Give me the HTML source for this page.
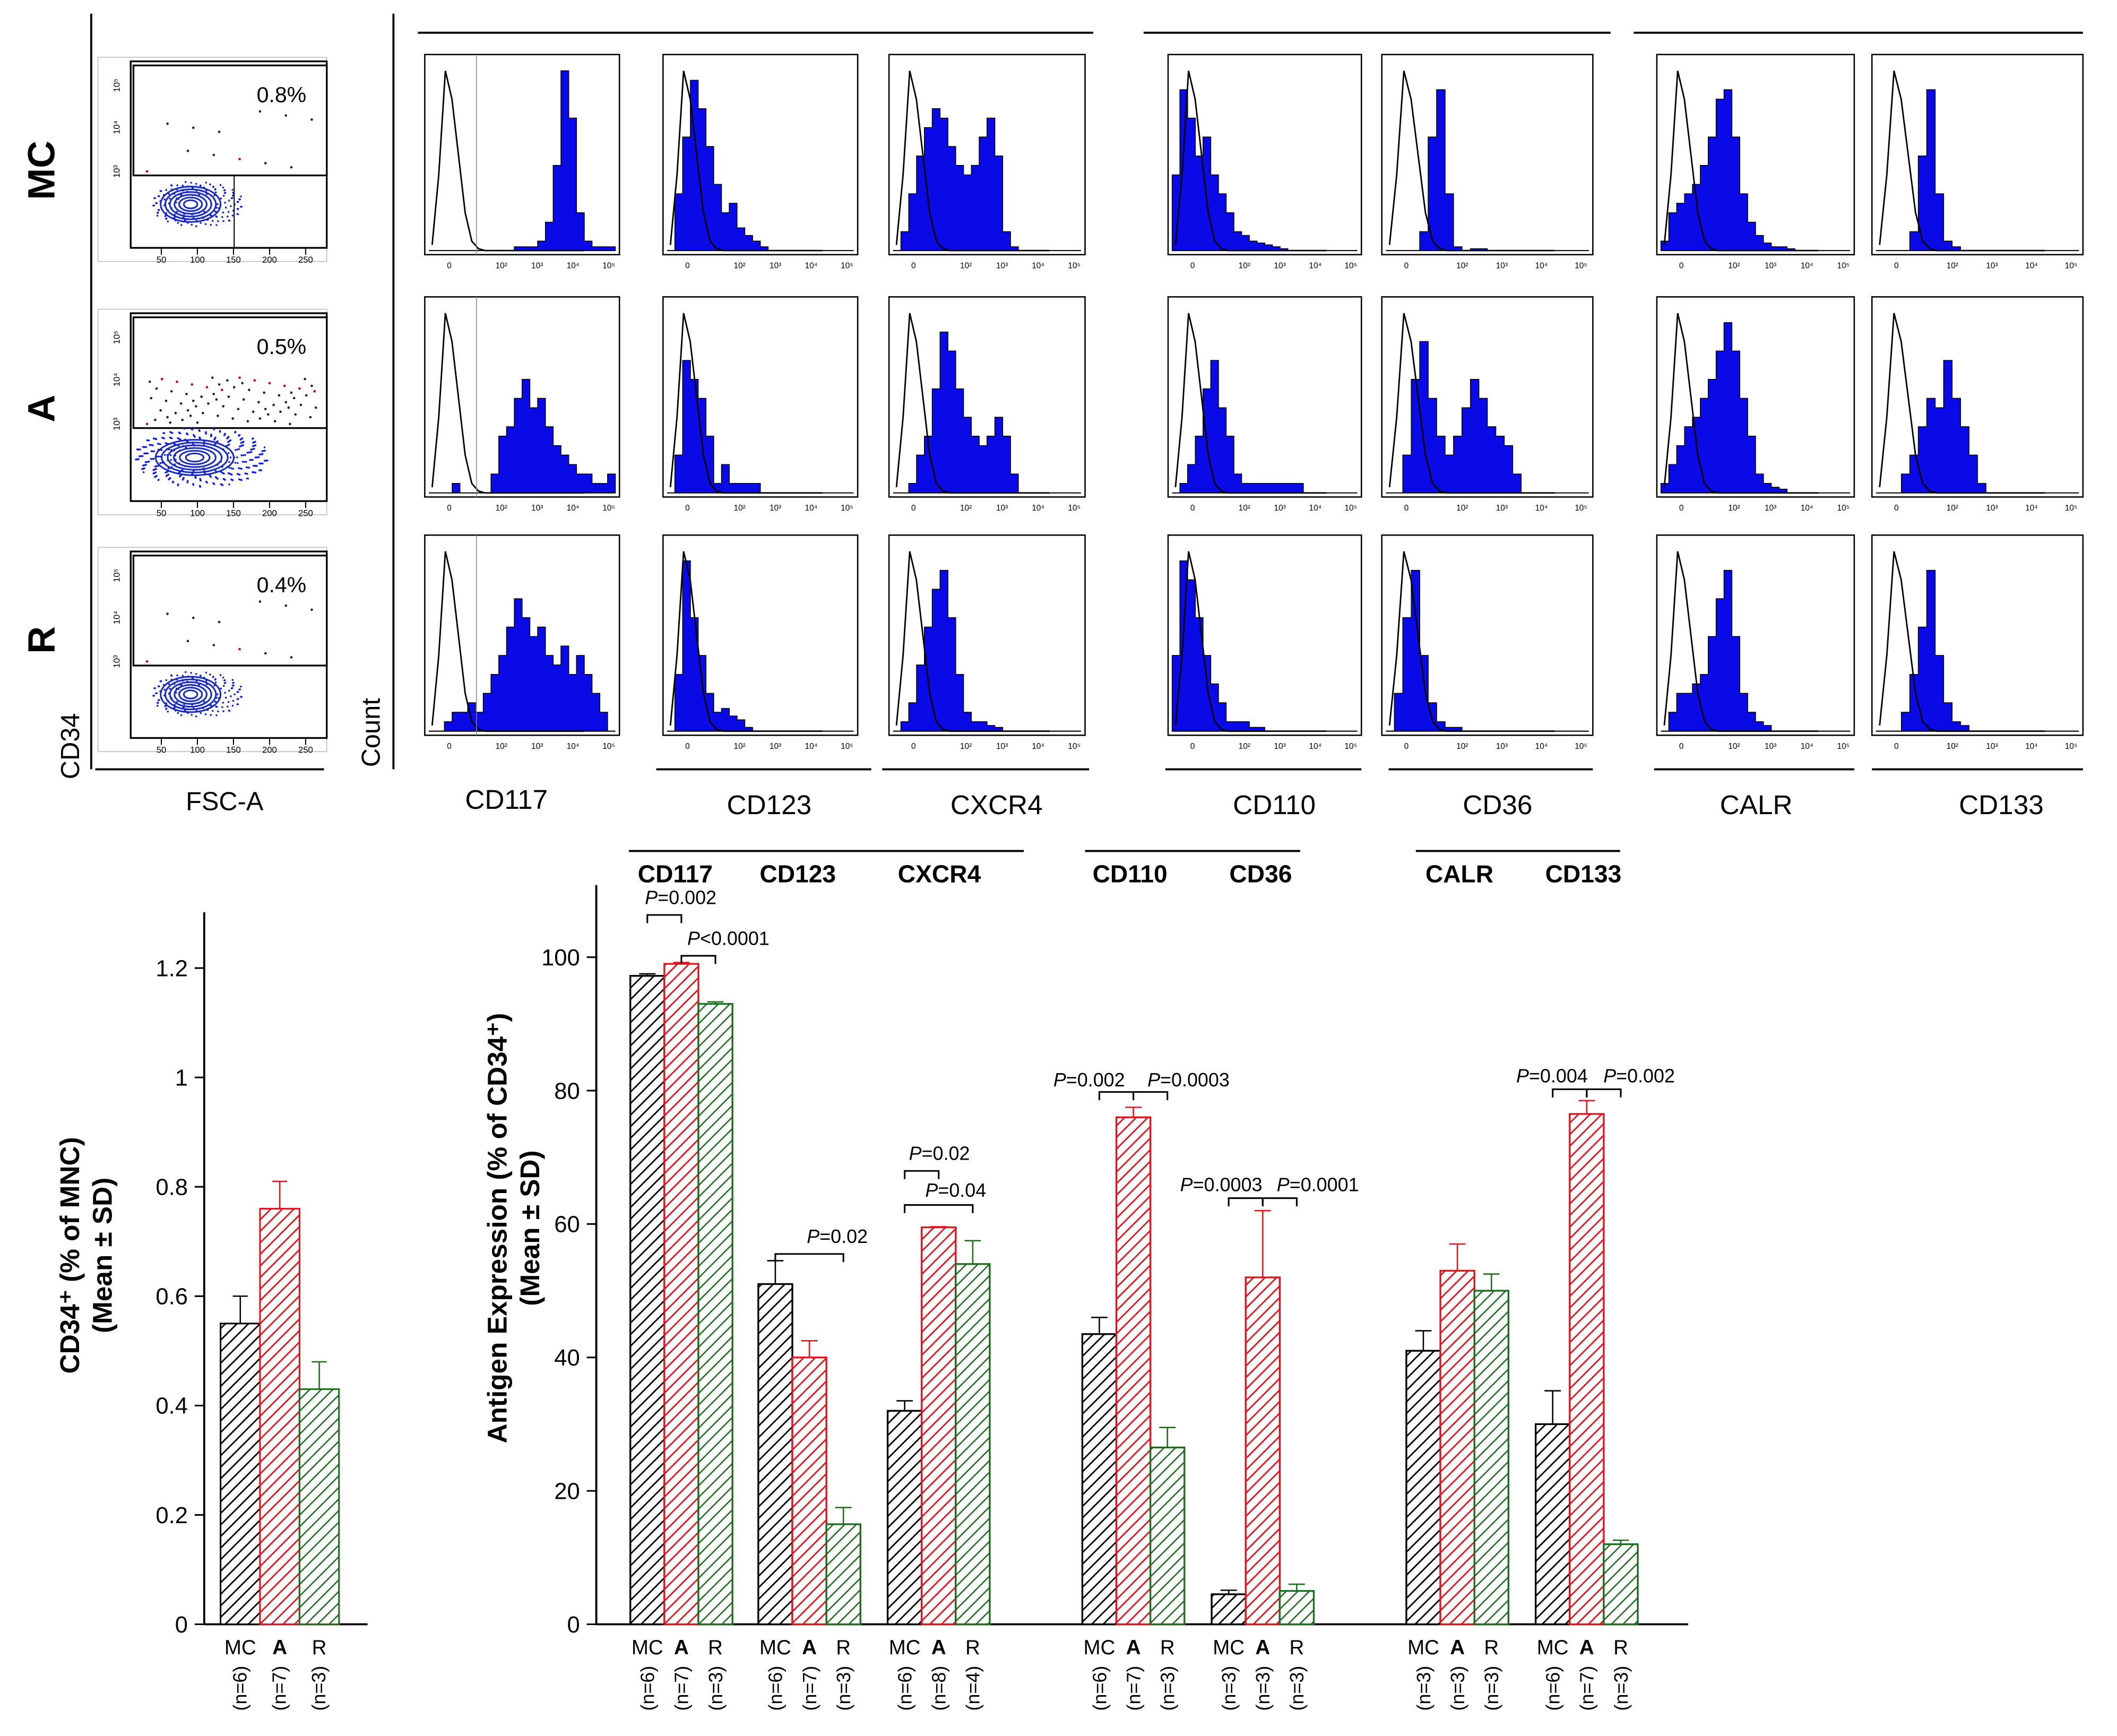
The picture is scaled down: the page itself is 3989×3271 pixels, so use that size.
<!DOCTYPE html>
<html><head><meta charset="utf-8"><style>
html,body{margin:0;padding:0;background:#fff}
svg{display:block}
text{font-family:"Liberation Sans",sans-serif}
</style></head><body>
<svg id="fig" width="3989" height="3271" viewBox="0 0 1555 1275" xmlns="http://www.w3.org/2000/svg">
<defs>
<pattern id="hk" patternUnits="userSpaceOnUse" width="6" height="6" patternTransform="rotate(45)"><rect width="6" height="6" fill="#fff"/><line x1="0" y1="0" x2="0" y2="6" stroke="#000" stroke-width="2.2"/></pattern>
<pattern id="hr" patternUnits="userSpaceOnUse" width="6" height="6" patternTransform="rotate(45)"><rect width="6" height="6" fill="#fff"/><line x1="0" y1="0" x2="0" y2="6" stroke="#e0141e" stroke-width="2.2"/></pattern>
<pattern id="hg" patternUnits="userSpaceOnUse" width="6" height="6" patternTransform="rotate(45)"><rect width="6" height="6" fill="#fff"/><line x1="0" y1="0" x2="0" y2="6" stroke="#1f6b1f" stroke-width="2"/></pattern>
</defs>
<g id="topPanels"></g>
<g id="left"></g>
<g id="main"></g>
</svg>
<script>
// ---------- data ----------
const antigens = ["CD117","CD123","CXCR4","CD110","CD36","CALR","CD133"];
const groups = ["MC","A","R"];
const cd34Values = [0.55,0.76,0.43];
const cd34Errors = [0.05,0.05,0.05];
const cd34N = ["(n=6)","(n=7)","(n=3)"];
const mcValues = [97.2,51,32,43.5,4.5,41,30];
const aValues = [99,40,59.5,76,52,53,76.5];
const rValues = [93,15,54,26.5,5,50,12];
const mcErrors = [0.3,3.5,1.5,2.5,0.6,3,5];
const aErrors = [0.2,2.5,0.1,1.5,10,4,2];
const rErrors = [0.3,2.5,3.5,3,1,2.5,0.6];
const nLabels = [["(n=6)","(n=7)","(n=3)"],["(n=6)","(n=7)","(n=3)"],["(n=6)","(n=8)","(n=4)"],["(n=6)","(n=7)","(n=3)"],["(n=3)","(n=3)","(n=3)"],["(n=3)","(n=3)","(n=3)"],["(n=6)","(n=7)","(n=3)"]];
const yTicksMain = [0,20,40,60,80,100];
const yTicksCd34 = [0,0.2,0.4,0.6,0.8,1,1.2];
const isoCurve = [0.03,0.4,0.95,0.8,0.5,0.2,0.05,0.01,0,0,0,0,0,0,0,0,0,0,0,0,0,0,0,0];
const histMC = [
 [0,0,0,0,0,0,0,0,0,0,0,0.02,0.02,0.02,0.05,0.15,0.45,0.95,0.7,0.2,0.05,0.02,0.02,0.02],
 [0,0.3,0.6,0.9,0.75,0.55,0.35,0.2,0.25,0.12,0.08,0.05,0.02,0,0,0,0,0,0,0,0,0,0,0],
 [0,0.1,0.3,0.5,0.65,0.75,0.7,0.55,0.45,0.4,0.45,0.6,0.7,0.5,0.1,0.02,0,0,0,0,0,0,0,0],
 [0.4,0.85,0.7,0.5,0.6,0.4,0.3,0.2,0.1,0.08,0.05,0.04,0.03,0.02,0.01,0,0,0,0,0,0,0,0,0],
 [0,0,0,0,0.1,0.6,0.85,0.3,0.02,0,0.01,0.01,0,0,0,0,0,0,0,0,0,0,0,0],
 [0.05,0.2,0.25,0.3,0.35,0.45,0.6,0.8,0.85,0.6,0.3,0.15,0.08,0.04,0.02,0.02,0.01,0,0,0,0,0,0,0],
 [0,0,0,0,0.1,0.5,0.85,0.3,0.05,0.02,0,0,0,0,0,0,0,0,0,0,0,0,0,0]];
const histA = [
 [0,0,0,0.05,0,0,0,0,0.1,0.3,0.35,0.5,0.6,0.45,0.5,0.35,0.25,0.2,0.15,0.1,0.1,0.05,0.05,0.1],
 [0,0.2,0.7,0.6,0.5,0.3,0.05,0.15,0.05,0.05,0.05,0.05,0,0,0,0,0,0,0,0,0,0,0,0],
 [0,0,0.05,0.2,0.3,0.55,0.85,0.75,0.55,0.4,0.3,0.25,0.3,0.4,0.3,0.1,0,0,0,0,0,0,0,0],
 [0,0.05,0.15,0.3,0.55,0.7,0.45,0.3,0.1,0.05,0.05,0.05,0.05,0.05,0.05,0.05,0.05,0,0,0,0,0,0,0],
 [0,0,0.2,0.6,0.8,0.5,0.3,0.2,0.3,0.45,0.6,0.5,0.35,0.3,0.25,0.1,0,0,0,0,0,0,0,0],
 [0.05,0.15,0.25,0.35,0.4,0.5,0.6,0.75,0.9,0.75,0.5,0.3,0.1,0.05,0.03,0.02,0,0,0,0,0,0,0,0],
 [0,0,0,0.1,0.2,0.35,0.5,0.45,0.7,0.5,0.35,0.2,0.05,0,0,0,0,0,0,0,0,0,0,0]];
const histR = [
 [0,0,0.05,0.1,0.1,0.15,0.1,0.2,0.3,0.4,0.55,0.7,0.6,0.5,0.55,0.4,0.35,0.45,0.3,0.4,0.3,0.2,0.1,0],
 [0,0.3,0.9,0.6,0.4,0.2,0.1,0.12,0.08,0.06,0.02,0,0,0,0,0,0,0,0,0,0,0,0,0],
 [0,0.05,0.15,0.35,0.55,0.75,0.85,0.6,0.3,0.1,0.05,0.05,0.03,0.02,0,0,0,0,0,0,0,0,0,0],
 [0.4,0.9,0.8,0.6,0.4,0.25,0.15,0.05,0.05,0.05,0.02,0.02,0,0,0,0,0,0,0,0,0,0,0,0],
 [0,0.2,0.6,0.85,0.4,0.15,0.05,0.02,0.02,0,0,0,0,0,0,0,0,0,0,0,0,0,0,0],
 [0,0.1,0.2,0.2,0.25,0.3,0.5,0.7,0.85,0.5,0.2,0.1,0.05,0.03,0,0,0,0,0,0,0,0,0,0],
 [0,0,0,0.1,0.3,0.55,0.85,0.4,0.15,0.05,0.03,0,0,0,0,0,0,0,0,0,0,0,0,0]];
const gatePercents = ["0.8%","0.5%","0.4%"];
const rowNames = ["MC","A","R"];

// ---------- helpers ----------
const NS="http://www.w3.org/2000/svg";
function el(parent,tag,attrs,txt){const n=document.createElementNS(NS,tag);for(const k in attrs)n.setAttribute(k,attrs[k]);if(txt!==undefined)n.textContent=txt;parent.appendChild(n);return n;}

// ---------- top panels ----------
const topG=document.getElementById('topPanels');
const defs=document.querySelector('defs');
let e;
e=el(topG,'line',{x1:67,y1:10,x2:67,y2:565,stroke:'#000','stroke-width':1.5});


e=el(topG,'line',{x1:289,y1:10,x2:289,y2:565,stroke:'#000','stroke-width':1.5});


[[307,803,24],[840,1183,24],[1200,1530,24],[70,238,565],[482,640,565],[648,800,565],[856,1000,565],[1020,1170,565],[1215,1362,565],[1375,1530,565],[462,752,625],[797,955,625],[1040,1190,625]].forEach(l=>{
 e=el(topG,'line',{x1:l[0],y1:l[2],x2:l[1],y2:l[2],stroke:'#000','stroke-width':1.5});
 
 
});
const rowY=[[45,192],[230,378],[405,552]];
const rowLblY=[125,300,470];
rowNames.forEach((n,i)=>{
 e=el(topG,'text',{x:0,y:0,transform:`translate(40,${rowLblY[i]}) rotate(-90)`,'text-anchor':'middle','font-size':28,'font-weight':'bold'},n);
 
 
});
e=el(topG,'text',{transform:'translate(58,548) rotate(-90)','text-anchor':'middle','font-size':19},'CD34');


e=el(topG,'text',{x:165,y:595,'text-anchor':'middle','font-size':19},'FSC-A');


e=el(topG,'text',{transform:'translate(279,538) rotate(-90)','text-anchor':'middle','font-size':19},'Count');


// dot plots
rowY.forEach((r,i)=>{
 const g=el(topG,'g',{});
 
 
 const x0=96,x1=240,y0=r[0],y1=r[1];
 const cp=el(defs,'clipPath',{id:'dpc'+i});
 el(cp,'rect',{x:x0,y:y0,width:x1-x0,height:y1-y0-10});
 el(g,'rect',{x:72,y:y0-3,width:168,height:y1-y0+3,fill:'none',stroke:'#bbb','stroke-width':0.6});
 el(g,'rect',{x:x0,y:y0,width:x1-x0,height:y1-y0-10,fill:'none',stroke:'#000','stroke-width':1.3});
 const gy=y0+(y1-y0)*0.57;
 el(g,'rect',{x:x0+2,y:y0+3,width:x1-x0-2,height:gy-y0-3,fill:'none',stroke:'#000','stroke-width':1.3});
 const cg=el(g,'g',{'clip-path':`url(#dpc${i})`});
 const cx=i==1?148:145,cy=y1-42, sc=i==1?1.45:1;
 const nEv=i==1?400:160;
 for(let k=0;k<nEv;k++){const a=k*2.399, rr=0.3+0.7*Math.sqrt((k*0.7548776)%1);
  el(cg,'circle',{cx:cx+Math.cos(a)*rr*34*sc,cy:cy+Math.sin(a)*rr*(i==1?22:17),r:0.7,fill:'#1020e0'});}
 for(let k=0;k<6;k++) el(cg,'ellipse',{cx:cx-5,cy:cy,rx:(22-k*3.4)*sc*(i==1?0.9:1),ry:13-k*2,fill:'none',stroke:'#1a2bbf','stroke-width':1.2});
 if(i==0) el(g,'line',{x1:172,y1:gy,x2:172,y2:y1-10,stroke:'#000','stroke-width':0.8});
 const nd=i==1?70:12;
 for(let k=0;k<nd;k++){el(g,'circle',{cx:108+((k*53)%125),cy:gy-3-((k*29)%(i==1?35:55)),r:0.9,fill:k%6==0?'#c00':'#222'});}
 e=el(g,'text',{x:225,y:y0+30,'text-anchor':'end','font-size':16},gatePercents[i]);
 
 
 [50,100,150,200,250].forEach((t,j)=>{const tx=x0+t*0.53-4;
  el(g,'line',{x1:tx,y1:y1-10,x2:tx,y2:y1-5,stroke:'#000','stroke-width':0.8});
  el(g,'text',{x:tx,y:y1+1,'text-anchor':'middle','font-size':6.5},t);});
 [['10⁵',0.12],['10⁴',0.33],['10³',0.55]].forEach(t=>{el(g,'text',{transform:`translate(88,${y0+(y1-y0)*t[1]}) rotate(-90)`,'text-anchor':'middle','font-size':6.5},t[0]);});
});
// histograms
const colX=[[312,455],[487,630],[653,797],[858,1000],[1015,1170],[1217,1362],[1375,1530]];
const rowsData=[histMC,histA,histR];
const histRowY=[[40,187],[218,365],[393,540]];
rowsData.forEach((rd,ri)=>{
 rd.forEach((bins,ci)=>{
  const g=el(topG,'g',{});
  
  
  const [x0,x1]=colX[ci],[y0,y1]=histRowY[ri];
  el(g,'rect',{x:x0,y:y0,width:x1-x0,height:y1-y0,fill:'#fff',stroke:'#000','stroke-width':1});
  const hbw=(x1-x0-6)/bins.length, base=y1-3, H=(y1-y0-8);
  let d=`M${x0+3},${base}`;
  bins.forEach((v,k)=>{const yy=base-v*H;d+=` L${x0+3+k*hbw},${yy} L${x0+3+(k+1)*hbw},${yy}`;});
  d+=` L${x0+3+bins.length*hbw},${base} Z`;
  el(g,'path',{d:d,fill:'#0a0ae6',stroke:'#000','stroke-width':0.6});
  let p='';
  isoCurve.forEach((v,k)=>{p+=(k?' L':'M')+(x0+3+(k+0.5)*hbw*0.85)+','+(base-v*H);});
  el(g,'path',{d:p,fill:'none',stroke:'#000','stroke-width':1.1});
  el(g,'line',{x1:x0+3,y1:base,x2:x1-3,y2:base,stroke:'#000','stroke-width':0.8});
  if(ci==0) el(g,'line',{x1:x0+38,y1:y0,x2:x0+38,y2:y1,stroke:'#888','stroke-width':0.6});
  ['0','10²','10³','10⁴','10⁵'].forEach((t,j)=>{const tx=x0+18+j*(x1-x0-30)/4.3+(j>0?12:0);
   el(g,'text',{x:tx,y:y1+10,'text-anchor':'middle','font-size':6},t);});
 });
});
const lblX=[372,565,732,936,1100,1290,1470];
antigens.forEach((a,i)=>{e=el(topG,'text',{x:lblX[i],y:i==0?594:598,'text-anchor':'middle','font-size':20},a);
 
 });
const hdrX=[496,586,690,830,926,1072,1163];
antigens.forEach((a,i)=>{e=el(topG,'text',{x:hdrX[i],y:648,'text-anchor':'middle','font-size':18,'font-weight':'bold'},a);
 
 });

// ---------- CD34 chart ----------
const L=document.getElementById('left');
const ly=v=>1193-v*(1193-711)/1.2;
e=el(L,'line',{x1:150,y1:670,x2:150,y2:1193,stroke:'#000','stroke-width':1.5});


e=el(L,'line',{x1:150,y1:1193,x2:270,y2:1193,stroke:'#000','stroke-width':1.5});


yTicksCd34.forEach(t=>{el(L,'line',{x1:143,y1:ly(t),x2:150,y2:ly(t),stroke:'#000','stroke-width':1.2});
 e=el(L,'text',{x:138,y:ly(t)+6,'text-anchor':'end','font-size':17},String(t));
 
 });
const fills=['url(#hk)','url(#hr)','url(#hg)'], strokes=['#000','#e0141e','#1f6b1f'];
cd34Values.forEach((v,i)=>{const x=162+i*29;
 el(L,'line',{x1:x+14.5,y1:ly(v),x2:x+14.5,y2:ly(v+cd34Errors[i]),stroke:strokes[i],'stroke-width':1});
 el(L,'line',{x1:x+9,y1:ly(v+cd34Errors[i]),x2:x+20,y2:ly(v+cd34Errors[i]),stroke:strokes[i],'stroke-width':1});
 e=el(L,'rect',{x:x,y:ly(v),width:29,height:1193-ly(v),fill:fills[i],stroke:strokes[i],'stroke-width':1.2});
 
 
 e=el(L,'text',{x:x+14.5,y:1215,'text-anchor':'middle','font-size':15,'font-weight':i==1?'bold':'normal'},groups[i]);
 
 
 e=el(L,'text',{transform:`translate(${x+19},1240) rotate(-90)`,'text-anchor':'middle','font-size':14},cd34N[i]);
 
 
});
e=el(L,'text',{transform:'translate(58,922) rotate(-90)','text-anchor':'middle','font-size':20,'font-weight':'bold'},'CD34⁺ (% of MNC)');


e=el(L,'text',{transform:'translate(82,922) rotate(-90)','text-anchor':'middle','font-size':20,'font-weight':'bold'},'(Mean ± SD)');



// ---------- main chart ----------
const M=document.getElementById('main');
const my=v=>1193-v*4.9;
const groupStart=[463,557,652,795,890,1033,1128];
const bw=25;
e=el(M,'line',{x1:438,y1:650,x2:438,y2:1193,stroke:'#000','stroke-width':1.5});


e=el(M,'line',{x1:438,y1:1193,x2:1240,y2:1193,stroke:'#000','stroke-width':1.5});


yTicksMain.forEach(t=>{el(M,'line',{x1:431,y1:my(t),x2:438,y2:my(t),stroke:'#000','stroke-width':1.2});
 e=el(M,'text',{x:426,y:my(t)+6,'text-anchor':'end','font-size':17},String(t));
 
 });
const series=[mcValues,aValues,rValues], errs=[mcErrors,aErrors,rErrors];
antigens.forEach((a,gi)=>{
 series.forEach((s,si)=>{const x=groupStart[gi]+si*bw, v=s[gi], topV=v+errs[si][gi];
  el(M,'line',{x1:x+bw/2,y1:my(v),x2:x+bw/2,y2:my(topV),stroke:strokes[si],'stroke-width':1});
  el(M,'line',{x1:x+bw/2-6,y1:my(topV),x2:x+bw/2+6,y2:my(topV),stroke:strokes[si],'stroke-width':1});
  e=el(M,'rect',{x:x,y:my(v),width:bw,height:1193-my(v),fill:fills[si],stroke:strokes[si],'stroke-width':1.3});
  
  
  e=el(M,'text',{x:x+bw/2,y:1215,'text-anchor':'middle','font-size':15,'font-weight':si==1?'bold':'normal'},groups[si]);
  
  
  e=el(M,'text',{transform:`translate(${x+bw/2+5},1240) rotate(-90)`,'text-anchor':'middle','font-size':14},nLabels[gi][si]);
  
  
 });
});
const bracketGroup=[0,0,1,2,2,3,3,4,4,6,6];
const bracketFrom=[0,1,0,0,0,0,1,0,1,0,1];
const bracketTo=[1,2,2,1,2,1,2,1,2,1,2];
const bracketY=[672,702,921,860,885,802,802,880,880,800,800];
const bracketP=["=0.002","<0.0001","=0.02","=0.02","=0.04","=0.002","=0.0003","=0.0003","=0.0001","=0.004","=0.002"];
const bracketTX=[500,535,615,690,702,800,873,897,968,1140,1204];
const bracketTY=[664,694,913,852,879,798,798,875,875,795,795];
bracketP.forEach((p,i)=>{
 const xa=groupStart[bracketGroup[i]]+bracketFrom[i]*bw+bw/2, xb=groupStart[bracketGroup[i]]+bracketTo[i]*bw+bw/2, y=bracketY[i];
 e=el(M,'path',{d:`M${xa},${y+6} L${xa},${y} L${xb},${y} L${xb},${y+6}`,fill:'none',stroke:'#000','stroke-width':1.2});
 
 
 const t=el(M,'text',{x:bracketTX[i],y:bracketTY[i],'text-anchor':'middle','font-size':14});
 
 
 el(t,'tspan',{'font-style':'italic'},'P');el(t,'tspan',{},p);
});
e=el(M,'text',{transform:'translate(372,902) rotate(-90)','text-anchor':'middle','font-size':20,'font-weight':'bold'},'Antigen Expression (% of  CD34⁺)');


e=el(M,'text',{transform:'translate(396,902) rotate(-90)','text-anchor':'middle','font-size':20,'font-weight':'bold'},'(Mean ± SD)');


</script>
</body></html>
